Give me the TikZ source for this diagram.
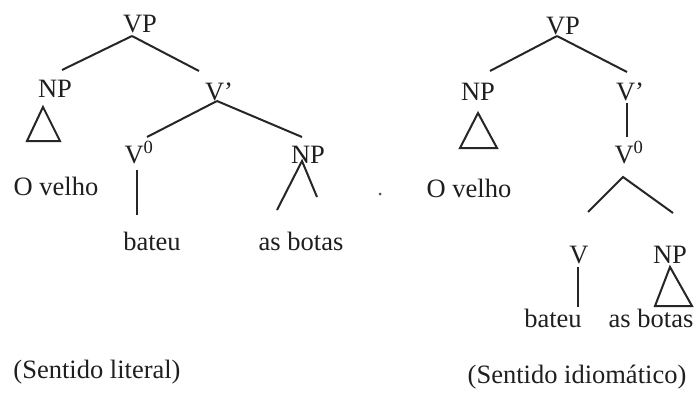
\documentclass[tikz,border=0pt]{standalone}
\usepackage{fontspec}
\setmainfont{Liberation Serif}
\usepackage{tikz}
\begin{document}
\begin{tikzpicture}[x=1pt,y=-1pt,
  lbl/.style={inner sep=0pt,anchor=base,text=black!88,font=\fontsize{26.5}{30}\selectfont},
  br/.style={draw=black!85,line width=2pt}]
\useasboundingbox[fill=white] (0,0) rectangle (698,396);
% ---- left tree ----
\node[lbl] (vpL) at (140,33) {VP};
\node[lbl] (npL) at (55,97) {NP};
\node[lbl] (vbL) at (219,100) {V'};
\node[lbl] (v0L) at (139,163) {V\textsuperscript{0}};
\node[lbl] (npL2) at (308,163) {NP};
\node[lbl] (ovL) at (56,195) {O velho};
\node[lbl] (btL) at (152,250) {bateu};
\node[lbl] (abL) at (301,250) {as botas};
\node[lbl] (capL) at (97,378) {(Sentido literal)};
\draw[br] ([shift={(-8,3)}]vpL.base) -- ([shift={(7,-27)}]npL.base);
\draw[br] ([shift={(-8,3)}]vpL.base) -- ([shift={(-20,-29)}]vbL.base);
\draw[br] ([shift={(-2,1)}]vbL.base) -- ([shift={(8,-26)}]v0L.base);
\draw[br] ([shift={(-2,1)}]vbL.base) -- ([shift={(-6,-26)}]npL2.base);
\draw[br] ([shift={(-12,10)}]npL.base) -- ([shift={(-28,44)}]npL.base) -- ([shift={(5,44)}]npL.base) -- cycle;
\draw[br] ([shift={(-2,7)}]v0L.base) -- ([shift={(-15,-35)}]btL.base);
\draw[br] ([shift={(-24,-40)}]abL.base) -- ([shift={(-6,-2)}]npL2.base) -- ([shift={(16,-53)}]abL.base);
% dot
\node[circle,fill=black!70,inner sep=0pt,minimum size=3pt] (dot) at (380,194) {};
% ---- right tree ----
\node[lbl] (vpR) at (563,35) {VP};
\node[lbl] (npR) at (478,100) {NP};
\node[lbl] (vbR) at (630,100) {V'};
\node[lbl] (v0R) at (629,163) {V\textsuperscript{0}};
\node[lbl] (ovR) at (469,197) {O velho};
\node[lbl] (vR) at (579,263) {V};
\node[lbl] (npR2) at (670,263) {NP};
\node[lbl] (btR) at (553,327) {bateu};
\node[lbl] (abR) at (651,327) {as botas};
\node[lbl] (capR) at (577,383) {(Sentido idiomático)};
\draw[br] ([shift={(-6,1)}]vpR.base) -- ([shift={(12,-29)}]npR.base);
\draw[br] ([shift={(-6,1)}]vpR.base) -- ([shift={(-3,-28)}]vbR.base);
\draw[br] ([shift={(-3,3)}]vbR.base) -- ([shift={(-2,-26)}]v0R.base);
\draw[br] ([shift={(0,13)}]npR.base) -- ([shift={(-18,48)}]npR.base) -- ([shift={(19,48)}]npR.base) -- cycle;
\draw[br] ([shift={(9,-51)}]vR.base) -- ([shift={(-6,14)}]v0R.base) -- ([shift={(3,-50)}]npR2.base);
\draw[br] ([shift={(-1,4)}]vR.base) -- ([shift={(25,-20)}]btR.base);
\draw[br] ([shift={(0,4)}]npR2.base) -- ([shift={(-15,43)}]npR2.base) -- ([shift={(22,43)}]npR2.base) -- cycle;
\end{tikzpicture}
\end{document}
